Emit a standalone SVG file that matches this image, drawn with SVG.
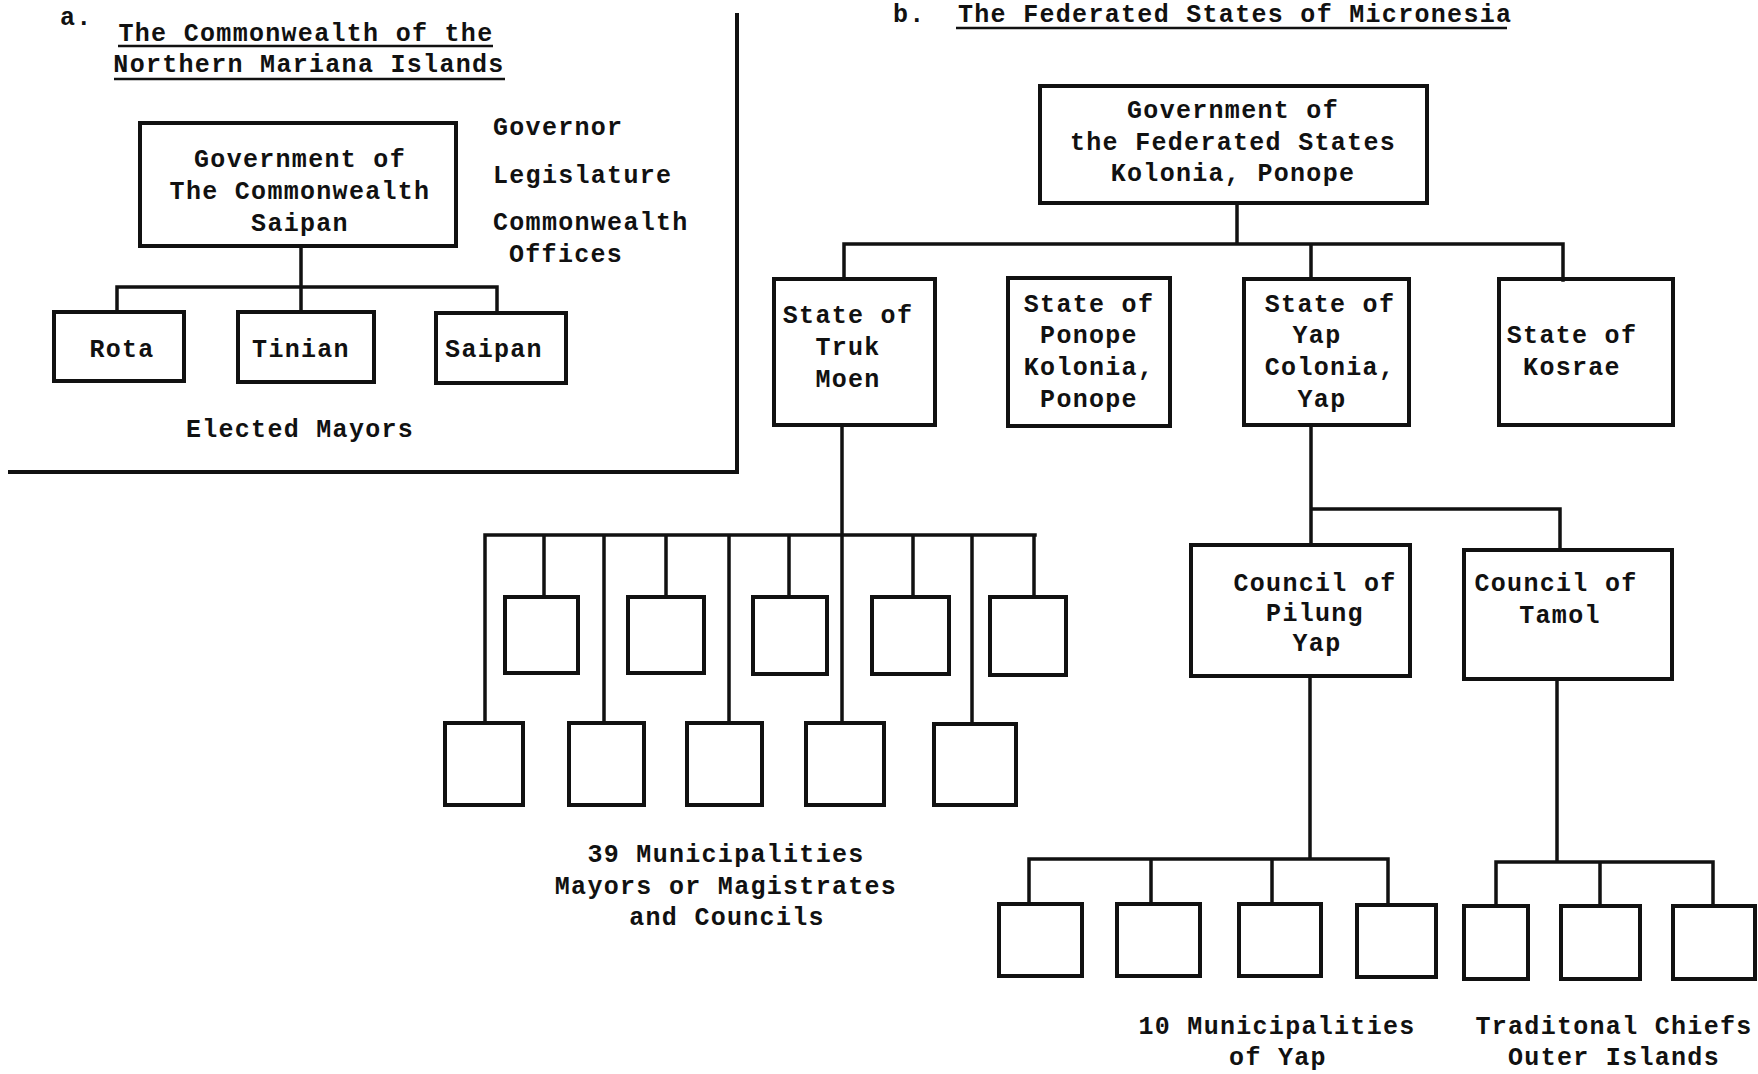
<svg xmlns="http://www.w3.org/2000/svg" width="1758" height="1074" viewBox="0 0 1758 1074">
<style>
text{font-family:"Liberation Mono","Courier New",monospace;font-size:25px;font-weight:bold;letter-spacing:1.3px;fill:#111}
.m{text-anchor:middle}
.box{fill:none;stroke:#111;stroke-width:4;stroke-linejoin:miter}
.ln{fill:none;stroke:#111;stroke-width:3.5;stroke-linecap:square}
.ul{fill:none;stroke:#111;stroke-width:2.5}
</style>
<rect width="1758" height="1074" fill="#fff"/>
<g id="frame"><path class="box" d="M8 472 H737 V13"/></g>
<g id="title-a">
<text x="60" y="25">a.</text>
<text class="m" x="306" y="41">The Commonwealth of the</text>
<text class="m" x="309" y="72">Northern Mariana Islands</text>
<path class="ul" d="M118 46 H493 M114 79 H505"/>
</g>
<g id="title-b">
<text x="893" y="22">b.</text>
<text x="958" y="22">The Federated States of Micronesia</text>
<path class="ul" d="M956 28 H1507"/>
</g>
<g id="connectors">
<path class="ln" d="M301 246 V312 M117 287 H497 M117 287 V311 M497 287 V313"/>
<path class="ln" d="M1237 203 V244 M844 244 H1563 M844 244 V279 M1311 244 V279 M1563 244 V280"/>
<path class="ln" d="M842 425 V723 M485 535 H1035 M544 535 V597 M666 535 V597 M789 535 V597 M913 535 V597 M1034 535 V597 M485 535 V723 M604 535 V723 M729 535 V723 M972 535 V724"/>
<path class="ln" d="M1311 425 V545 M1311 509 H1560 V550"/>
<path class="ln" d="M1310 676 V859 M1029 859 H1388 M1029 859 V904 M1151 859 V904 M1272 859 V904 M1388 859 V905"/>
<path class="ln" d="M1557 679 V862 M1496 862 H1713 M1496 862 V906 M1600 862 V906 M1713 862 V906"/>
</g>
<g id="gov-cnmi">
<rect class="box" x="140" y="123" width="316" height="123"/>
<text class="m" x="300" y="167">Government of</text>
<text class="m" x="300" y="199">The Commonwealth</text>
<text class="m" x="300" y="231">Saipan</text>
</g>
<g id="cnmi-branches">
<text x="493" y="135">Governor</text>
<text x="493" y="183">Legislature</text>
<text x="493" y="230">Commonwealth</text>
<text x="509" y="262">Offices</text>
</g>
<g id="rota"><rect class="box" x="54" y="312" width="130" height="69"/><text class="m" x="122" y="357">Rota</text></g>
<g id="tinian"><rect class="box" x="238" y="312" width="136" height="70"/><text class="m" x="301" y="357">Tinian</text></g>
<g id="saipan"><rect class="box" x="436" y="313" width="130" height="70"/><text class="m" x="494" y="357">Saipan</text></g>
<g id="elected-mayors"><text class="m" x="300" y="437">Elected Mayors</text></g>
<g id="gov-fsm">
<rect class="box" x="1040" y="86" width="387" height="117"/>
<text class="m" x="1233" y="118">Government of</text>
<text class="m" x="1233" y="150">the Federated States</text>
<text class="m" x="1233" y="181">Kolonia, Ponope</text>
</g>
<g id="truk">
<rect class="box" x="774" y="279" width="161" height="146"/>
<text class="m" x="848" y="323">State of</text>
<text class="m" x="848" y="355">Truk</text>
<text class="m" x="848" y="387">Moen</text>
</g>
<g id="ponope">
<rect class="box" x="1008" y="278" width="162" height="148"/>
<text class="m" x="1089" y="312">State of</text>
<text class="m" x="1089" y="343">Ponope</text>
<text class="m" x="1089" y="375">Kolonia,</text>
<text class="m" x="1089" y="407">Ponope</text>
</g>
<g id="yap">
<rect class="box" x="1244" y="279" width="165" height="146"/>
<text class="m" x="1330" y="312">State of</text>
<text class="m" x="1317" y="343">Yap</text>
<text class="m" x="1330" y="375">Colonia,</text>
<text class="m" x="1322" y="407">Yap</text>
</g>
<g id="kosrae">
<rect class="box" x="1499" y="279" width="174" height="146"/>
<text class="m" x="1572" y="343">State of</text>
<text class="m" x="1572" y="375">Kosrae</text>
</g>
<g id="truk-municipalities">
<rect class="box" x="505" y="597" width="73" height="76"/>
<rect class="box" x="628" y="597" width="76" height="76"/>
<rect class="box" x="753" y="597" width="74" height="77"/>
<rect class="box" x="872" y="597" width="77" height="77"/>
<rect class="box" x="990" y="597" width="76" height="78"/>
<rect class="box" x="445" y="723" width="78" height="82"/>
<rect class="box" x="569" y="723" width="75" height="82"/>
<rect class="box" x="687" y="723" width="75" height="82"/>
<rect class="box" x="806" y="723" width="78" height="82"/>
<rect class="box" x="934" y="724" width="82" height="81"/>
</g>
<g id="truk-label">
<text class="m" x="726" y="862">39 Municipalities</text>
<text class="m" x="726" y="894">Mayors or Magistrates</text>
<text class="m" x="727" y="925">and Councils</text>
</g>
<g id="pilung">
<rect class="box" x="1191" y="545" width="219" height="131"/>
<text class="m" x="1315" y="591">Council of</text>
<text class="m" x="1315" y="621">Pilung</text>
<text class="m" x="1317" y="651">Yap</text>
</g>
<g id="tamol">
<rect class="box" x="1464" y="550" width="208" height="129"/>
<text class="m" x="1556" y="591">Council of</text>
<text class="m" x="1560" y="623">Tamol</text>
</g>
<g id="yap-municipalities">
<rect class="box" x="999" y="904" width="83" height="72"/>
<rect class="box" x="1117" y="904" width="83" height="72"/>
<rect class="box" x="1239" y="904" width="82" height="72"/>
<rect class="box" x="1357" y="905" width="79" height="72"/>
</g>
<g id="outer-islands">
<rect class="box" x="1464" y="906" width="64" height="73"/>
<rect class="box" x="1561" y="906" width="79" height="73"/>
<rect class="box" x="1673" y="906" width="82" height="73"/>
</g>
<g id="yap-label">
<text class="m" x="1277" y="1034">10 Municipalities</text>
<text class="m" x="1278" y="1065">of Yap</text>
</g>
<g id="outer-label">
<text class="m" x="1614" y="1034">Traditonal Chiefs</text>
<text class="m" x="1614" y="1065">Outer Islands</text>
</g>
</svg>
